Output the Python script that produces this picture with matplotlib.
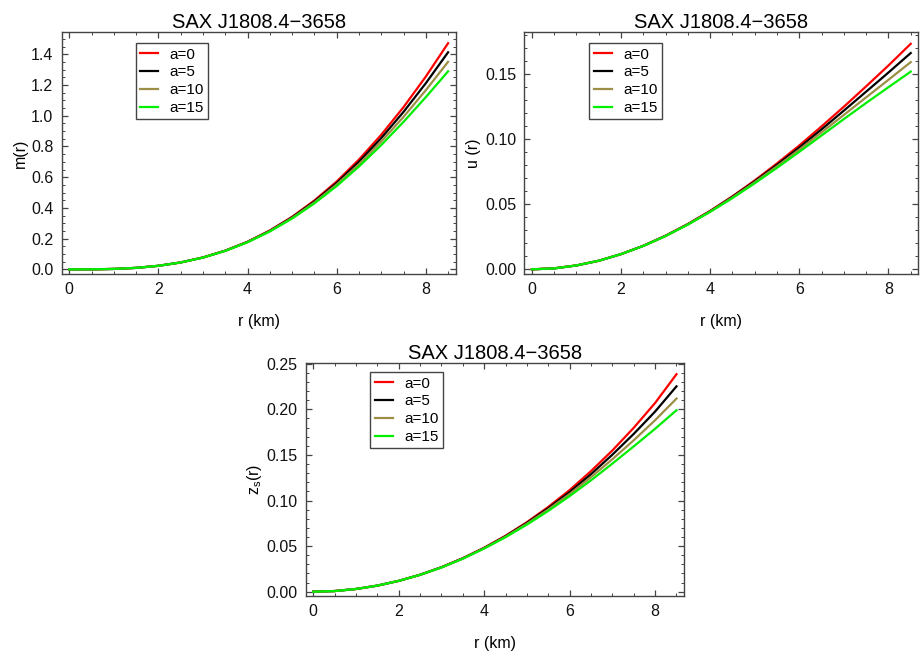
import matplotlib
matplotlib.use("Agg")
import matplotlib.pyplot as plt
from matplotlib.ticker import MultipleLocator

plt.rcParams["font.family"] = ["Liberation Sans", "DejaVu Sans"]

# radial coordinate (km)
r_km = [0.0, 0.5, 1.0, 1.5, 2.0, 2.5, 3.0, 3.5, 4.0, 4.5,
        5.0, 5.5, 6.0, 6.5, 7.0, 7.5, 8.0, 8.5]

labels = ["a=0", "a=5", "a=10", "a=15"]
colors = ["#ff0000", "#000000", "#9c8f45", "#00ee00"]

# mass function m(r)
m_a0 = [0.0, 0.0004, 0.0030, 0.0099, 0.0234, 0.0453, 0.0776, 0.1221, 0.1800,
        0.2531, 0.3422, 0.4484, 0.5720, 0.7148, 0.8760, 1.0558, 1.2546, 1.4720]
m_a5 = [0.0, 0.0004, 0.0030, 0.0099, 0.0234, 0.0452, 0.0774, 0.1216, 0.1789,
        0.2510, 0.3386, 0.4424, 0.5624, 0.7002, 0.8544, 1.0249, 1.2115, 1.4130]
m_a10 = [0.0, 0.0004, 0.0030, 0.0099, 0.0233, 0.0451, 0.0771, 0.1210, 0.1778,
         0.2489, 0.3348, 0.4360, 0.5524, 0.6848, 0.8318, 0.9925, 1.1662, 1.3510]
m_a15 = [0.0, 0.0004, 0.0030, 0.0099, 0.0233, 0.0450, 0.0769, 0.1205, 0.1766,
         0.2467, 0.3309, 0.4297, 0.5423, 0.6695, 0.8091, 0.9601, 1.1209, 1.2890]

# compactness u(r)
u_a0 = [0.0, 0.0008, 0.0030, 0.0066, 0.0117, 0.0181, 0.0259, 0.0349, 0.0450,
        0.0562, 0.0684, 0.0815, 0.0953, 0.1100, 0.1251, 0.1408, 0.1568, 0.1735]
u_a5 = [0.0, 0.0007, 0.0030, 0.0066, 0.0117, 0.0181, 0.0258, 0.0347, 0.0447,
        0.0558, 0.0677, 0.0804, 0.0937, 0.1077, 0.1221, 0.1367, 0.1514, 0.1664]
u_a10 = [0.0, 0.0007, 0.0030, 0.0066, 0.0117, 0.0180, 0.0257, 0.0346, 0.0445,
         0.0553, 0.0670, 0.0793, 0.0921, 0.1054, 0.1188, 0.1323, 0.1458, 0.1594]
u_a15 = [0.0, 0.0007, 0.0030, 0.0066, 0.0117, 0.0180, 0.0256, 0.0344, 0.0442,
         0.0548, 0.0662, 0.0781, 0.0904, 0.1030, 0.1156, 0.1280, 0.1401, 0.1521]

# surface redshift z_s(r)
z_a0 = [0.0, 0.0008, 0.0030, 0.0067, 0.0119, 0.0186, 0.0269, 0.0368, 0.0483,
        0.0614, 0.0763, 0.0930, 0.1115, 0.1323, 0.1549, 0.1798, 0.2070, 0.2385]
z_a5 = [0.0, 0.0007, 0.0030, 0.0067, 0.0119, 0.0186, 0.0268, 0.0366, 0.0479,
        0.0609, 0.0755, 0.0916, 0.1093, 0.1289, 0.1503, 0.1731, 0.1976, 0.2252]
z_a10 = [0.0, 0.0007, 0.0030, 0.0067, 0.0119, 0.0185, 0.0267, 0.0364, 0.0477,
         0.0604, 0.0746, 0.0902, 0.1072, 0.1257, 0.1453, 0.1661, 0.1881, 0.2118]
z_a15 = [0.0, 0.0007, 0.0030, 0.0067, 0.0119, 0.0185, 0.0266, 0.0362, 0.0474,
         0.0598, 0.0736, 0.0886, 0.1049, 0.1222, 0.1405, 0.1594, 0.1787, 0.1990]

title = "SAX J1808.4\u22123658"
FRAME = "#444444"


def style_axes(ax, ylim, ymajor, yminor, yfmt):
    ax.set_xlim(-0.17, 8.67)
    ax.set_ylim(*ylim)
    ax.xaxis.set_major_locator(MultipleLocator(2))
    ax.xaxis.set_minor_locator(MultipleLocator(0.5))
    ax.yaxis.set_major_locator(MultipleLocator(ymajor))
    ax.yaxis.set_minor_locator(MultipleLocator(yminor))
    ax.yaxis.set_major_formatter(plt.FormatStrFormatter(yfmt))
    ax.tick_params(which="both", direction="in", top=True, right=True,
                   color=FRAME, labelsize=11.5, labelcolor="#111111")
    ax.tick_params(which="major", length=4.5, width=0.9, pad=6)
    ax.tick_params(which="minor", length=2.5, width=0.7)
    for sp in ax.spines.values():
        sp.set_color(FRAME)
        sp.set_linewidth(1.0)
    ax.set_title(title, fontsize=14.5, pad=3)
    ax.set_xlabel("r (km)", fontsize=11.5, labelpad=12)


def add_legend(ax, fig, x_px, y_px):
    leg = ax.legend(loc="upper left",
                    bbox_to_anchor=(x_px / 922, 1 - y_px / 651),
                    bbox_transform=fig.transFigure,
                    fontsize=11, frameon=True, fancybox=False,
                    edgecolor=FRAME, framealpha=1, borderpad=0.28,
                    handlelength=1.2, handletextpad=0.75, labelspacing=0.25,
                    borderaxespad=0)
    leg.get_frame().set_linewidth(1.0)


fig = plt.figure(figsize=(9.22, 6.51), dpi=100)

ax1 = fig.add_axes([0.0669, 0.5791, 0.4273, 0.3722])
for y, lab, c in zip([m_a0, m_a5, m_a10, m_a15], labels, colors):
    ax1.plot(r_km, y, color=c, lw=1.6, label=lab)
style_axes(ax1, (-0.03, 1.547), 0.2, 0.05, "%.1f")
ax1.set_ylabel("m(r)", fontsize=11.5, labelpad=2)
add_legend(ax1, fig, 135.7, 43.3)

ax2 = fig.add_axes([0.5687, 0.5791, 0.4273, 0.3722])
for y, lab, c in zip([u_a0, u_a5, u_a10, u_a15], labels, colors):
    ax2.plot(r_km, y, color=c, lw=1.6, label=lab)
style_axes(ax2, (-0.0036, 0.1828), 0.05, 0.01, "%.2f")
ax2.set_ylabel("u (r)", fontsize=11.5, labelpad=3)
add_legend(ax2, fig, 589.3, 43.3)

ax3 = fig.add_axes([0.3319, 0.0849, 0.4097, 0.3579])
for y, lab, c in zip([z_a0, z_a5, z_a10, z_a15], labels, colors):
    ax3.plot(r_km, y, color=c, lw=1.6, label=lab)
style_axes(ax3, (-0.0044, 0.2511), 0.05, 0.01, "%.2f")
ax3.set_ylabel(r"z$_\mathregular{s}$(r)", fontsize=11.5, labelpad=2)
add_legend(ax3, fig, 370.3, 372.3)

fig.savefig("out.png", dpi=100)
